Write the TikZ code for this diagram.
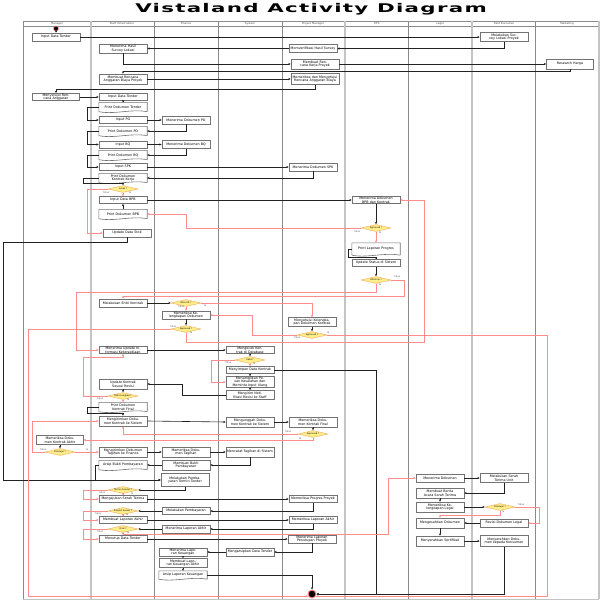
\documentclass[tikz,border=0pt]{standalone}
\usepackage{fontspec}
\usepackage{graphicx}
\setmainfont{DejaVu Sans}
\newfontfamily\vtitlefont[LetterSpace=6]{DejaVu Sans}
\usetikzlibrary{arrows.meta,shapes.geometric,calc}
\definecolor{redl}{HTML}{FF8C8C}
\definecolor{flowc}{HTML}{222222}
\definecolor{decfill}{HTML}{FFEE8A}
\definecolor{decline}{HTML}{F2B56B}
\definecolor{lanedark}{HTML}{8A8A8A}
\definecolor{lanelight}{HTML}{C4C4C4}
\newcommand\vnfont{\fontsize{3.3}{3.6}\selectfont}
\newcommand\vdfont{\fontsize{2.2}{2.6}\selectfont}
\newcommand\vlfont{\fontsize{2.3}{2.6}\selectfont}
\newcommand\vhfont{\fontsize{2.7}{3}\selectfont}
\newcommand\docdraw[1]{\draw[docline] (#1.south east) -- (#1.north east) -- (#1.north west) -- (#1.south west) .. controls +(16pt,-3pt) and +(-16pt,3pt) .. (#1.south east);}
\tikzset{
 actbox/.style={rectangle, draw=black!55, fill=white, line width=0.6pt, minimum width=48pt, minimum height=#1, inner sep=0.3pt, text width=46pt, align=center, font=\vnfont},
 actbox/.default=8pt,
 docnode/.style={rectangle, draw=none, minimum width=48pt, minimum height=#1, inner sep=0.3pt, text width=46pt, align=center, font=\vnfont},
 docnode/.default=9pt,
 docline/.style={draw=black!55, line width=0.6pt},
 decnode/.style={diamond, draw=decline, fill=decfill, line width=0.5pt, aspect=4.5, inner sep=0pt, minimum width=30pt, minimum height=7pt, font=\vdfont},
 cf/.style={draw=flowc, line width=0.6pt, -{Stealth[length=2.4pt,width=2.2pt]}},
 rf/.style={draw=redl, line width=0.6pt, -{Stealth[length=2.4pt,width=2.2pt]}},
 brl/.style={font=\vlfont, text=black!60, inner sep=0pt},
 hdr/.style={font=\vhfont, text=black!70, inner sep=0pt},
}
\begin{document}
\begin{tikzpicture}[x=1pt,y=-1pt]
\useasboundingbox (0,0) rectangle (600,600);
\fill[white] (0,0) rectangle (600,600);
% title
\node (title) at (311,9.5) {\vtitlefont\fontsize{12}{14}\selectfont\bfseries\scalebox{1.78}[1]{Vistaland Activity Diagram}};
% pool and lanes
\draw[lanedark, line width=0.6pt] (23,21) -- (599,21);
\draw[lanedark, line width=0.4pt] (23,26) -- (599,26);
\draw[lanelight, line width=0.8pt] (23,599) -- (599,599);
\foreach \x/\c/\w in {23/lanedark/0.7, 91/lanelight/1.1, 154/lanedark/0.7, 218/lanedark/0.7, 282/lanedark/0.7, 345/lanelight/1.1, 408/lanedark/0.7, 472/lanelight/1.1, 535/lanedark/0.7, 599/lanelight/1.1}
  \draw[\c, line width=\w pt] (\x,21) -- (\x,599);
\node[hdr] (hM) at (57,23.6) {Manager};
\node[hdr] (hS) at (122,23.6) {Staff Infrastruktur};
\node[hdr] (hF) at (186,23.6) {Finance};
\node[hdr] (hY) at (250,23.6) {System};
\node[hdr] (hP) at (313,23.6) {Project Manager};
\node[hdr] (hE) at (377,23.6) {EPS};
\node[hdr] (hL) at (440,23.6) {Legal};
\node[hdr] (hFE) at (504,23.6) {Field Executive};
\node[hdr] (hMk) at (567,23.6) {Marketing};

% ---------- Manager
\node[circle, fill=black, draw=redl, line width=0.6pt, minimum size=5pt, inner sep=0pt] (start) at (56,28.5) {};
\node[actbox=8pt] (m1) at (56,37) {Input Data Tender};
\node[actbox=7pt, minimum width=46pt] (m2) at (56,97) {Menyetujui Rencana Anggaran};
\node[actbox=9pt, minimum width=46pt] (m3) at (60,440) {Memeriksa Dokumen Kontrak Akhir};
\node[decnode] (md1) at (60,452) {Disetujui ?};

% ---------- Staff
\node[actbox=9pt] (s1) at (123,48.5) {Menerima Hasil Survey Lokasi};
\node[actbox=10pt] (s2) at (123,79) {Membuat Rencana Anggaran Biaya Proyek};
\node[actbox=7pt] (s3) at (123,97) {Input Data Tender};
\node[docnode=9pt] (sd1) at (123,107) {Print Dokumen Tender};
\node[actbox=7pt] (s4) at (123,120) {Input PO};
\node[docnode=9pt] (sd2) at (123,131) {Print Dokumen PO};
\node[actbox=7pt] (s5) at (123,144.5) {Input BQ};
\node[docnode=9pt] (sd3) at (123,155) {Print Dokumen BQ};
\node[actbox=7pt] (s6) at (123,167) {Input SPK};
\node[docnode=9pt] (sd4) at (123,178) {Print Dokumen Kontrak Kerja};
\node[decnode] (sdec1) at (123,189) {Lunas ?};
\node[actbox=7pt] (s7) at (123,200) {Input Data BPB};
\node[docnode=9pt] (sd5) at (123,214) {Print Dokumen BPB};
\node[actbox=8pt] (s8) at (127,233) {Update Data Stok};
\node[actbox=8pt] (s9) at (123,303) {Melakukan Entri Kontrak};
\node[actbox=7pt] (s10) at (123,350) {Menerima Update Informasi Ketersediaan};
\node[actbox=10pt] (s11) at (123,384) {Update Kontrak Sesuai Revisi};
\node[decnode] (sdec2) at (123,396) {Data Lengkap ?};
\node[docnode=9pt] (sd6) at (123,407) {Print Dokumen Kontrak Final};
\node[actbox=10pt] (s12) at (123,421) {Mengirimkan Dokumen Kontrak ke Sistem};
\node[actbox=10pt] (s13) at (123,452) {Mengirimkan Dokumen Tagihan ke Finance};
\node[docnode=9pt] (sd7) at (123,465) {Arsip Bukti Pembayaran};
\node[decnode] (sdec3) at (123,490) {Termin Selesai ?};
\node[actbox=7pt] (s14) at (123,499) {Mengajukan Serah Terima};
\node[decnode] (sdec4) at (123,511) {Progres Sesuai ?};
\node[actbox=7pt] (s15) at (123,520) {Membuat Laporan Akhir};
\node[decnode] (sdec5) at (123,529) {Final ?};
\node[actbox=7pt] (s16) at (123,539) {Menutup Data Tender};

% ---------- Finance
\node[actbox=8pt] (f1) at (186,120) {Menerima Dokumen PO};
\node[actbox=8pt] (f2) at (186,144.5) {Menerima Dokumen BQ};
\node[decnode] (fdec1) at (186,303) {Data OK ?};
\node[actbox=8pt] (f3) at (186,315) {Memeriksa Kelengkapan Dokumen};
\node[decnode] (fdec2) at (186,329) {Approved ?};
\node[actbox=10pt] (f4) at (186,452) {Memeriksa Dokumen Tagihan};
\node[actbox=10pt] (f5) at (186,465) {Membuat Bukti Pembayaran};
\node[actbox=13pt] (f6) at (185,480) {Melakukan Pembayaran Termin Tender};
\node[actbox=7pt] (f7) at (186,511) {Melakukan Pembayaran};
\node[actbox=8pt] (f8) at (186,529) {Menerima Laporan Akhir};
\node[actbox=8pt] (f9) at (183,552) {Menerima Laporan Keuangan};
\node[actbox=9pt] (f10) at (183,563) {Membuat Laporan Keuangan Akhir};
\node[docnode=8pt] (fd1) at (183,575) {Arsip Laporan Keuangan};

% ---------- System
\node[actbox=7pt] (y1) at (250,350) {Mengecek Kontrak di Database};
\node[decnode] (ydec1) at (250,360) {Valid ?};
\node[actbox=7pt] (y2) at (250,370) {Menyimpan Data Kontrak};
\node[actbox=10pt] (y3) at (250,382) {Menampilkan Pesan Kesalahan dan Meminta Input Ulang};
\node[actbox=9pt] (y4) at (250,395) {Mengirim Notifikasi Revisi ke Staff};
\node[actbox=10pt] (y5) at (250,422) {Mengunggah Dokumen Kontrak ke Sistem};
\node[actbox=10pt] (y6) at (250,452) {Mencatat Tagihan di Sistem};
\node[actbox=8pt] (y7) at (250,552) {Mengarsipkan Data Tender};

% ---------- Project Manager
\node[actbox=8pt] (p1) at (313,48.5) {Memverifikasi Hasil Survey};
\node[actbox=10pt] (p2) at (315,64) {Membuat Rencana Kerja Proyek};
\node[actbox=11pt] (p3) at (315,79) {Memeriksa dan Menyetujui Rencana Anggaran Biaya};
\node[actbox=8pt] (p4) at (313,167) {Menerima Dokumen SPK};
\node[actbox=9pt] (p5) at (312,322) {Menyetujui Kelengkapan Dokumen Kontrak};
\node[decnode] (pdec1) at (312,335) {Approved ?};
\node[actbox=10pt] (p6) at (313,422) {Memeriksa Dokumen Kontrak Final};
\node[decnode] (pdec2) at (313,434) {Approved ?};
\node[actbox=7pt] (p7) at (313,499) {Memeriksa Progres Proyek};
\node[actbox=7pt] (p8) at (313,520) {Memeriksa Laporan Akhir};
\node[actbox=8pt] (p9) at (312,539) {Menerima Laporan Penutupan Proyek};
\node[circle, fill=black, draw=redl, line width=1pt, minimum size=8pt, inner sep=0pt] (endn) at (312,594) {};

% ---------- EPS
\node[actbox=7pt] (e1) at (376,200) {Menerima Dokumen BPB dan Kontrak};
\node[decnode] (edec1) at (376,228) {Approved ?};
\node[docnode=12pt] (ed1) at (376,249) {Print Laporan Progres};
\node[actbox=7pt] (e2) at (376,263) {Update Status di Sistem};
\node[decnode] (edec2) at (376,280) {Diterima ?};

% ---------- Legal
\node[actbox=8pt] (l1) at (440,478) {Menerima Dokumen};
\node[actbox=10pt] (l2) at (440,493) {Membuat Berita Acara Serah Terima};
\node[actbox=10pt] (l3) at (440,507) {Memeriksa Kelengkapan Legal};
\node[actbox=10pt] (l4) at (440,523) {Mengesahkan Dokumen};
\node[actbox=10pt] (l5) at (440,541) {Menyerahkan Sertifikat};

% ---------- Field Executive
\node[actbox=9pt] (fe1) at (504,37) {Melakukan Survey Lokasi Proyek};
\node[actbox=9pt] (fe2) at (504,478) {Melakukan Serah Terima Unit};
\node[decnode] (fedec) at (500,507) {Disetujui ?};
\node[actbox=8pt] (fe3) at (504,523) {Revisi Dokumen Legal};
\node[actbox=11pt] (fe4) at (504,541) {Menyerahkan Dokumen kepada Konsumen};

% ---------- Marketing
\node[actbox=10pt, minimum width=47pt] (mk1) at (570,64) {Research Harga};

% document shapes
\foreach \d in {sd1,sd2,sd3,sd4,sd5,sd6,sd7,ed1,fd1} {\docdraw{\d}}

% ---------- connectors
\draw[cf] (start) -- (m1);
\draw[cf] (m1) -- (fe1);
\draw[cf] (fe1.south) |- (p1.east);
\draw[cf] (p1.west) -- (s1.east);
\draw[cf] (s1.south) |- (p2.west);
\draw[cf] (p2.east) -- (mk1.west);
\draw[cf] (mk1.south) -- (570,71) -| (s2.north);
\draw[cf] (s2.east) -- (p3.west);
\draw[cf] (p3.south) -- (315,89) -| (m2.north);
\draw[cf] (m2.east) -- (s3.west);
\draw[cf] (s3) -- (sd1);
\draw[cf] (sd1.west) -- ++(-12,0) |- (s4.west);
\draw[cf] (s4.east) -- (f1.west);
\draw[cf] (f1.south) |- (sd2.east);
\draw[cf] (sd2.west) -- ++(-12,0) |- (s5.west);
\draw[cf] (s5.east) -- (f2.west);
\draw[cf] (f2.south) |- (sd3.east);
\draw[cf] (sd3.west) -- ++(-12,0) |- (s6.west);
\draw[cf] (s6.east) -- (p4.west);
\draw[cf] (p4.south) |- (sd4.east);
\draw[cf] (sd4.west) -- ++(-16,0) -- ++(0,5) -| (sdec1.north);
\draw[rf] (sdec1.west) -- (87,189) |- (s8.west);
\draw[rf] (sdec1.south) -- (s7.north);
\draw[cf] (s7.east) -- (e1.west);
\draw[cf] (sd5.north) -- (s7.south);
\draw[rf] (edec1.west) -- (186,228) |- (sd5.east);
\draw[cf] (e1.south) -- (edec1.north);
\draw[rf] (edec1.south) -- (ed1.north);
\coordinate (c29) at (376,257.5);
\draw[cf] (ed1.west) -- ++(-4,0) |- (c29) -- (e2.north);
\draw[cf] (e2.south) -- (edec2.north);
\draw[rf] (edec2.south) -- (376,292) -| (76,350) -- (s10.west);
\draw[rf] (edec2.east) -| (404,296) -| (s9.north);
\draw[cf] (s8.south) -- (127,242) -| (3,480) -- (f6.west);
\draw[cf] (s9.east) -- (fdec1.west);
\draw[rf] (fdec1.south) -- (f3.north);
\draw[rf] (fdec1.east) -| (p5.north);
\draw[cf] (p5.south) -- (pdec1.north);
\draw[rf] (pdec1.west) -- (252,335) |- (f3.east);
\draw[rf] (pdec1.east) -- (547,335) |- (endn.-30);
\draw[cf] (f3.south) -- (fdec2.north);
\draw[rf] (fdec2.west) -- (28,329) |- (endn.-150);
\draw[rf] (fdec2.south) -- (186,342) -| (424,200) -- (e1.east);
\draw[cf] (s10.east) -- (y1.west);
\draw[cf] (y1.south) -- (ydec1.north);
\draw[rf] (ydec1.south) -- (y2.north);
\draw[rf] (ydec1.west) -- (211,360) |- (y3.west);
\draw[cf] (y2.south) -- (y3.north);
\draw[cf] (y3.south) -- (y4.north);
\draw[cf] (y2.east) -| (376,594) -- (endn.east);
\draw[cf] (y4.west) -| (182,384) -- (s11.east);
\draw[cf] (s11.south) -- (sdec2.north);
\draw[rf] (sdec2.west) -- (83,396) |- (123,357) -- (s10.south);
\draw[rf] (sdec2.south) -- (sd6.north);
\draw[cf] (sd6.west) -- (87,407) |- (123,413) -- (s12.north);
\draw[cf] (s12.east) -- (y5.west);
\draw[cf] (y5.east) -- (p6.west);
\draw[cf] (p6.south) -- (pdec2.north);
\draw[rf] (pdec2.west) -| (s12.south);
\draw[rf] (pdec2.south) |- (m3.east);
\draw[cf] (m3.south) -- (md1.north);
\draw[rf] (md1.west) -- (32,452) |- (s12.west);
\draw[rf] (md1.east) -- (s13.west);
\draw[cf] (s13.east) -- (f4.west);
\draw[cf] (f4.east) -- (y6.west);
\draw[cf] (y6.south) |- (f5.east);
\draw[cf] (f5.west) -- (sd7.east);
\draw[cf] (sd7.west) -- ++(-4,0) |- (f6.west);
\draw[cf] (f6.south) |- (sdec3.east);
\draw[rf] (sdec3.south) -- (s14.north);
\draw[rf] (sdec3.west) -- (83,490) |- (s14.west);
\draw[cf] (s14.east) -- (p7.west);
\draw[cf] (p7.south) |- (f7.east);
\draw[cf] (f7.west) -- (sdec4.east);
\draw[rf] (sdec4.south) -- (s15.north);
\draw[rf] (sdec4.west) -- (83,511) |- (s15.west);
\draw[cf] (s15.east) -- (p8.west);
\draw[cf] (p8.south) |- (f8.east);
\draw[cf] (f8.west) -- (sdec5.east);
\draw[rf] (sdec5.south) -- (s16.north);
\draw[rf] (sdec5.west) -- (83,529) |- (s16.west);
\draw[rf] (sdec5.south) -- (123,534) -- (388,534) |- (l1.west);
\draw[cf] (s16.east) -- (p9.west);
\draw[cf] (p9.south) |- (y7.east);
\draw[cf] (y7.west) -- (f9.east);
\draw[cf] (f9) -- (f10);
\draw[cf] (f10) -- (fd1);
\draw[cf] (fd1.east) -| (endn.north);
\draw[cf] (l1.east) -- (fe2.west);
\draw[cf] (fe2.south) |- (l2.east);
\draw[cf] (l2.south) -- (l3.north);
\draw[cf] (l3.east) -- (fedec.west);
\draw[rf] (fedec.east) -- (539,507) |- (fe3.east);
\draw[rf] (fedec.south) -- (500,515) -| (l4.north);
\draw[cf] (fe3.west) -- (l4.east);
\draw[cf] (l4.south) -- (l5.north);
\draw[cf] (l5.east) -- (fe4.west);
\draw[cf] (fe4.south) |- (endn.east);

% ---------- branch labels
\node[brl] (b1) at (106,192.5) {Tidak};
\node[brl] (b2) at (130,193) {Ya};
\node[brl] (b3) at (357,231.5) {Tidak};
\node[brl] (b4) at (380,233) {Ya};
\node[brl] (b5) at (397,277) {Tidak};
\node[brl] (b6) at (380,285) {Ya};
\node[brl] (b7) at (181,307) {Tidak};
\node[brl] (b8) at (205,305.5) {Ya};
\node[brl] (b9) at (173,327) {Tidak};
\node[brl] (b10) at (191,333) {Ya};
\node[brl] (b11) at (297,338) {Tidak};
\node[brl] (b12) at (328,333) {Ya};
\node[brl] (b13) at (228,362.5) {Tidak};
\node[brl] (b14) at (254,364) {Ya};
\node[brl] (b15) at (100,398.5) {Tidak};
\node[brl] (b16) at (128,400) {Ya};
\node[brl] (b17) at (288,432) {Tidak};
\node[brl] (b18) at (300,438.5) {Ya};
\node[brl] (b19) at (43,450) {Tidak};
\node[brl] (b20) at (87,450) {Ya};
\node[brl] (b21) at (102,493) {Tidak};
\node[brl] (b22) at (132,494) {Ya};
\node[brl] (b23) at (98,513.5) {Tidak};
\node[brl] (b24) at (127,514.5) {Ya};
\node[brl] (b25) at (100,531.5) {Tidak};
\node[brl] (b26) at (128,532.5) {Ya};
\node[brl] (b27) at (521,505) {Tidak};
\node[brl] (b28) at (503,512) {Ya};
\end{tikzpicture}
\end{document}
